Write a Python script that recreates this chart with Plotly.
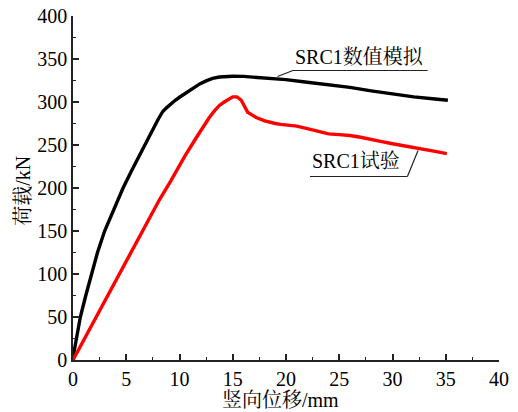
import plotly.graph_objects as go

# Data
sim_x = [0, 0.16, 0.4, 0.69, 1.2, 1.72, 2.3, 2.97, 3.8, 4.7, 5.5, 6.5, 7.5, 8.0, 8.43, 8.8, 9.2, 9.6, 10,
         10.6, 11.25, 11.9, 12.5, 13.1, 13.75, 14.4, 15, 16, 16.9, 18, 20, 22, 24, 26, 28, 30, 32, 34, 35.2]
sim_y = [3, 15, 30, 50, 75, 100, 125, 150, 175, 200, 220, 245, 268, 280, 289, 293.5, 298, 302, 305.5,
         310.5, 316, 321, 324.5, 327.5, 329, 329.8, 330, 329.8, 329, 328, 326, 323, 320, 317, 313, 309, 306, 303.5, 302]

test_x = [0, 2, 4.37, 6.23, 8.1, 9.2, 10.5, 11.6, 12.2, 12.8, 13.3, 13.75, 14.2, 14.6, 15.0, 15.4, 15.8,
          16.1, 16.4, 16.8, 17.2, 18, 18.5, 19, 19.5, 20, 21, 22, 23, 24, 25, 26, 27, 28, 29, 30,
          31, 32, 33, 34, 35.1]
test_y = [0, 46, 100, 143, 186, 208.5, 237, 259, 271, 282, 290, 296, 300, 303.5, 306, 306, 302,
          295, 288, 285, 282, 278, 276, 275, 274, 273.5, 272, 269, 266, 263, 262, 261, 259, 257, 254, 251.5,
          249, 247, 245, 242.5, 240]

x_ticks = [0, 5, 10, 15, 20, 25, 30, 35, 40]
y_ticks = [0, 50, 100, 150, 200, 250, 300, 350, 400]

sim_label = "SRC1数值模拟"
test_label = "SRC1试验"
x_title = "竖向位移/mm"
y_title = "荷载/kN"

FONT = "Liberation Serif, Times New Roman, Noto Serif CJK SC, Noto Sans CJK SC, serif"

fig = go.Figure()
fig.add_trace(go.Scatter(x=sim_x, y=sim_y, mode="lines",
                         line=dict(color="black", width=3.4),
                         showlegend=False))
fig.add_trace(go.Scatter(x=test_x, y=test_y, mode="lines",
                         line=dict(color="#ff0000", width=3.4),
                         showlegend=False))

axis_common = dict(
    showgrid=False, zeroline=False, showline=True, linecolor="#222", linewidth=1.5,
    ticks="inside", ticklen=6, tickwidth=1.5, tickcolor="#222",
    tickfont=dict(family=FONT, size=20, color="black"),
    minor=dict(ticks="inside", ticklen=3, tickwidth=1.2, tickcolor="#222"),
    automargin=False,
)

fig.update_xaxes(range=[0, 40], tickvals=x_ticks, ticktext=[str(v) for v in x_ticks],
                 minor_dtick=2.5, **axis_common)
fig.update_yaxes(range=[0, 400], tickvals=y_ticks, ticktext=[str(v) for v in y_ticks],
                 minor_dtick=25, **axis_common)

# Axis titles
fig.add_annotation(x=0.486, y=-0.116, xref="paper", yref="paper", text=x_title, showarrow=False,
                   xanchor="center", yanchor="middle",
                   font=dict(family=FONT, size=20, color="black"))
fig.add_annotation(x=-0.118, y=0.491, xref="paper", yref="paper", text=y_title, showarrow=False,
                   xanchor="center", yanchor="middle", textangle=-90,
                   font=dict(family=FONT, size=20, color="black"))

# Callout for simulated curve
fig.add_shape(type="line", xref="x", yref="y", x0=19.2, y0=329.6, x1=20.65, y1=336.6,
              line=dict(color="#222", width=1.2))
fig.add_shape(type="line", xref="x", yref="y", x0=20.65, y0=336.6, x1=33.3, y1=336.6,
              line=dict(color="#222", width=1.2))
fig.add_annotation(x=26.9, y=336.6, xref="x", yref="y", text=sim_label, showarrow=False,
                   yanchor="bottom", yshift=1,
                   font=dict(family=FONT, size=20, color="black"))

# Callout for test curve
fig.add_shape(type="line", xref="x", yref="y", x0=32.4, y0=243.6, x1=31.4, y1=213.4,
              line=dict(color="#222", width=1.2))
fig.add_shape(type="line", xref="x", yref="y", x0=22.25, y0=213.4, x1=31.4, y1=213.4,
              line=dict(color="#222", width=1.2))
fig.add_annotation(x=26.6, y=213.4, xref="x", yref="y", text=test_label, showarrow=False,
                   yanchor="bottom", yshift=2,
                   font=dict(family=FONT, size=20, color="black"))

fig.update_layout(
    width=518, height=412,
    margin=dict(l=73, r=19, t=16, b=52),
    paper_bgcolor="white", plot_bgcolor="white",
    font=dict(family=FONT, color="black"),
)

fig.write_html("out.html")
